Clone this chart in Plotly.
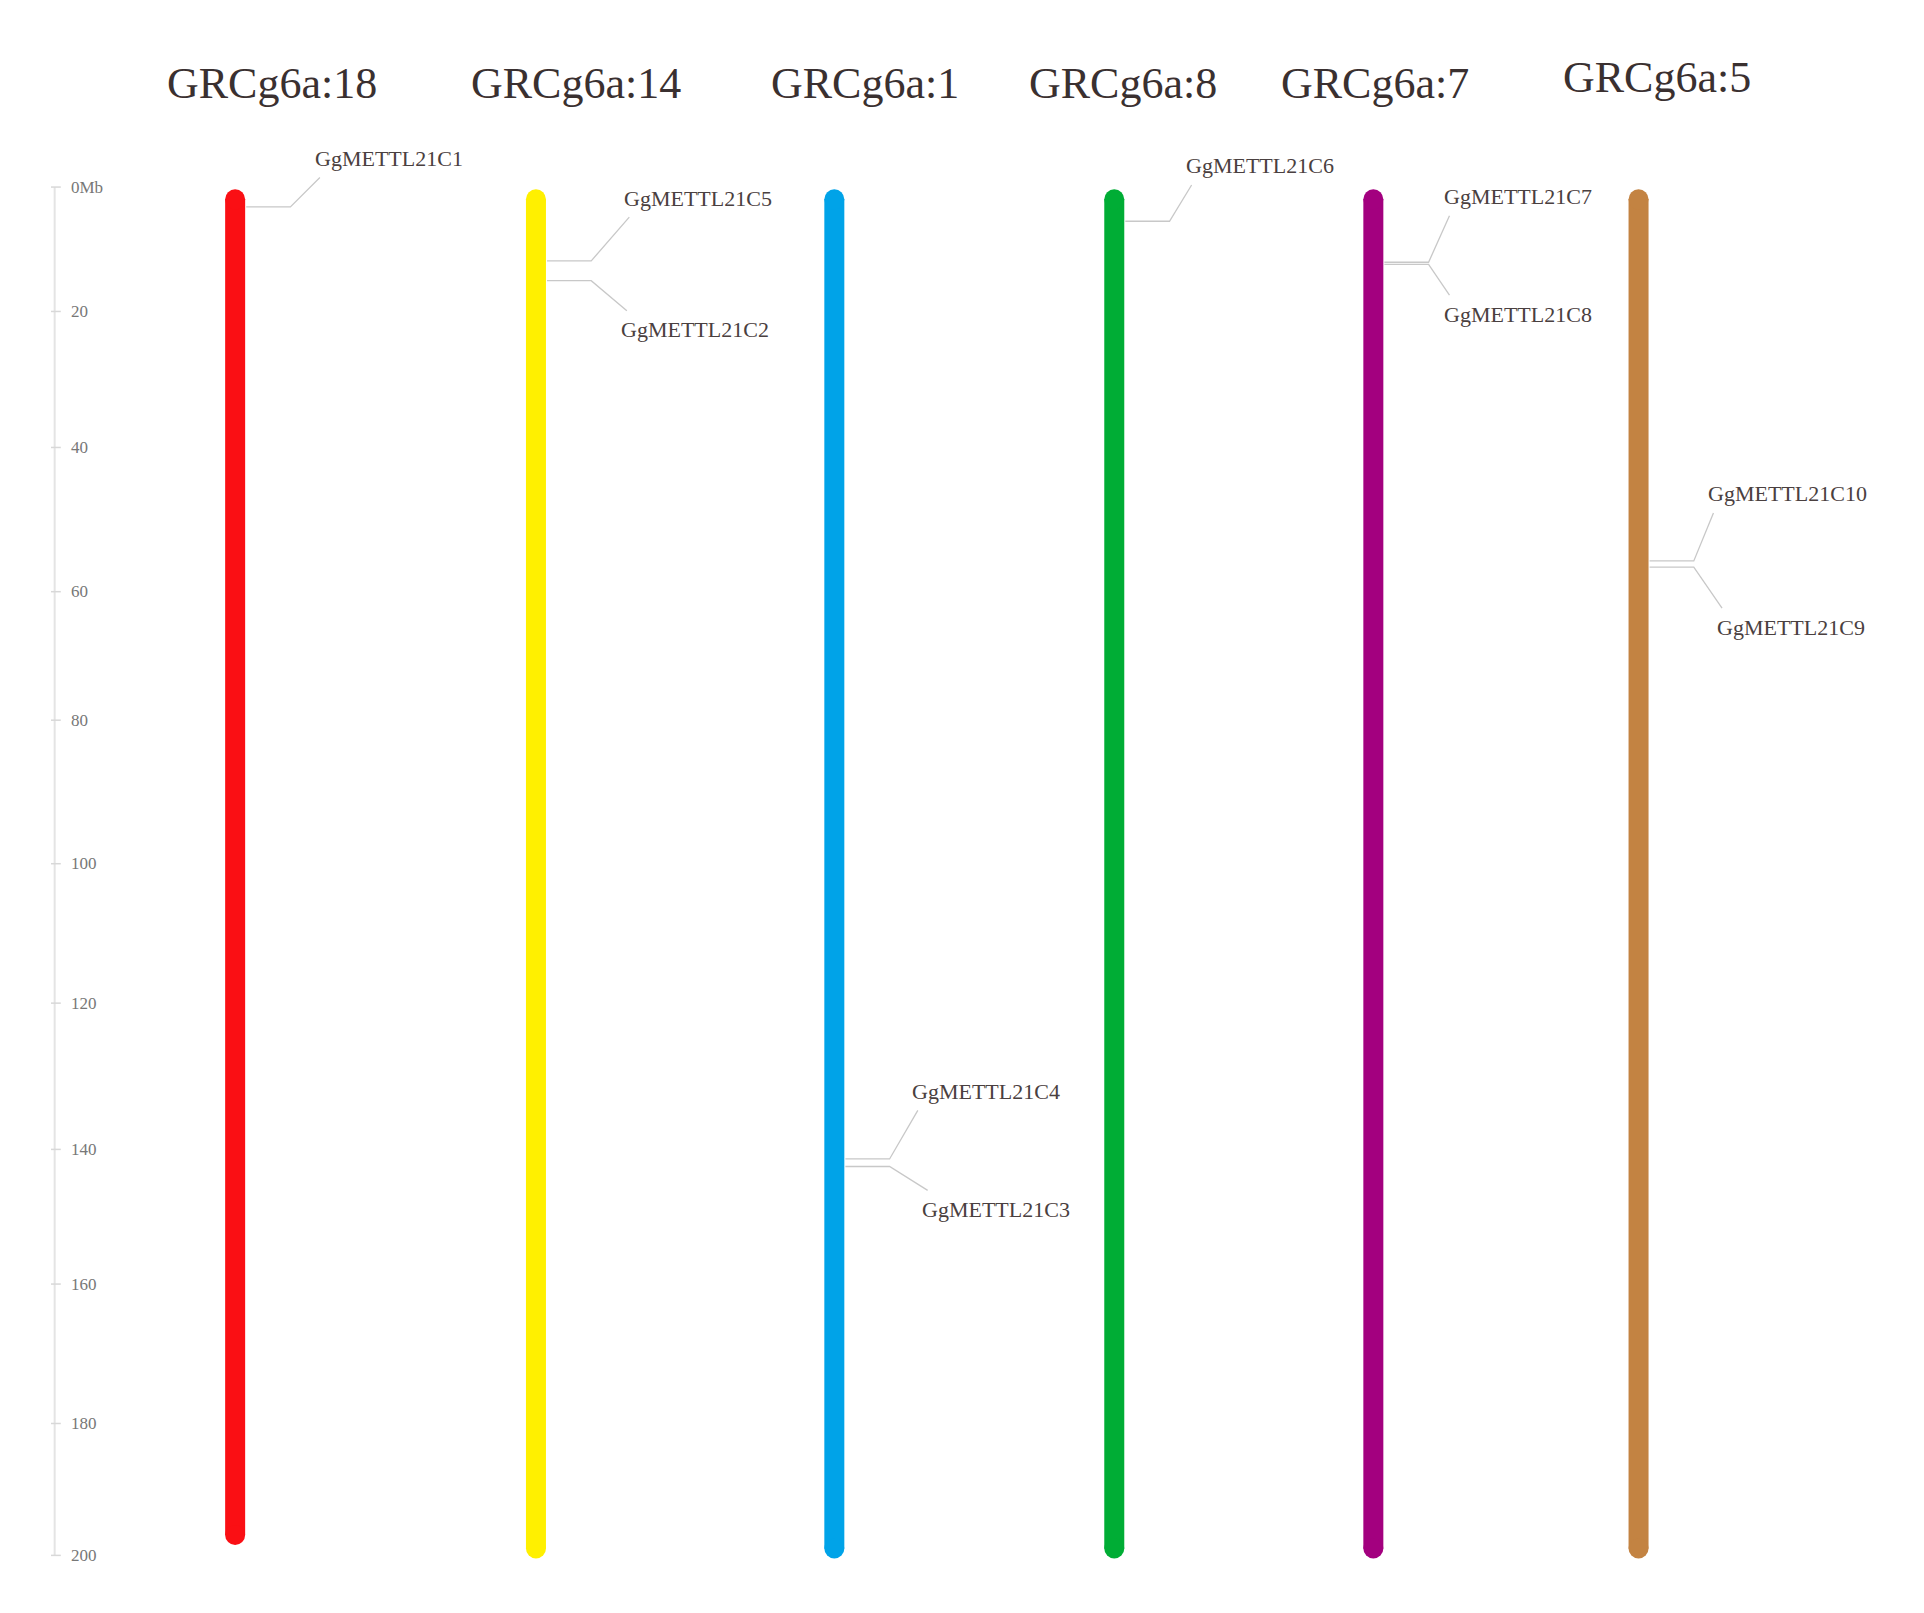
import plotly.graph_objects as go

# chromosomes (left to right)
chromosomes = ["GRCg6a:18", "GRCg6a:14", "GRCg6a:1", "GRCg6a:8", "GRCg6a:7", "GRCg6a:5"]
chr_colors = ["#fa0f14", "#fff000", "#00a3e8", "#00ad35", "#a3007f", "#c38342"]
chr_length = [199, 201, 201, 201, 201, 201]  # Mb, as drawn

# genes
genes = ["GgMETTL21C1", "GgMETTL21C5", "GgMETTL21C2", "GgMETTL21C6", "GgMETTL21C7",
         "GgMETTL21C8", "GgMETTL21C10", "GgMETTL21C9", "GgMETTL21C4", "GgMETTL21C3"]
gene_chr = [0, 1, 1, 3, 4, 4, 5, 5, 2, 2]
gene_pos = [2.9, 10.8, 13.7, 5.0, 11.0, 11.3, 54.7, 55.6, 142.2, 143.3]
label_y = [-4.2, 1.6, 20.9, -3.1, 1.4, 18.6, 44.9, 64.4, 132.3, 149.6]

scale_ticks = [0, 20, 40, 60, 80, 100, 120, 140, 160, 180, 200]
scale_tick_y = [0, 18.2, 38.1, 59.2, 78.0, 99.0, 119.4, 140.8, 160.5, 180.9, 200.2]

# layout helpers (display units)
chr_x = [192, 437, 680, 908, 1119, 1335]
title_x = [222, 470, 705, 915, 1120, 1350]
title_y = [-15.2, -15.2, -15.2, -15.2, -15.2, -16.1]
label_x = [255, 507, 505, 965, 1175, 1175, 1390, 1397, 742, 750]

fig = go.Figure()

# scale bar
fig.add_trace(go.Scatter(x=[45, 45], y=[0, 200.2], mode="lines",
                         line=dict(color="#e4e4e4", width=2), hoverinfo="skip"))
for t, ty in zip(scale_ticks, scale_tick_y):
    fig.add_trace(go.Scatter(x=[42, 50], y=[ty, ty], mode="lines",
                             line=dict(color="#d8d8d8", width=1.5), hoverinfo="skip"))
    fig.add_annotation(x=57, y=ty, text=("0Mb" if t == 0 else str(t)), showarrow=False,
                       xanchor="left", yanchor="middle",
                       font=dict(family="Liberation Serif", size=17, color="#777"))

# chromosomes
for i, name in enumerate(chromosomes):
    fig.add_trace(go.Scatter(x=[chr_x[i], chr_x[i]], y=[1.8, chr_length[i] - 1.8],
                             mode="lines+markers",
                             line=dict(color=chr_colors[i], width=20),
                             marker=dict(color=chr_colors[i], size=20, line=dict(width=0)),
                             hoverinfo="skip"))
    fig.add_annotation(x=title_x[i], y=title_y[i], text=name, showarrow=False,
                       font=dict(family="Liberation Serif", size=44, color="#3a3030"))

# genes + leader lines
for g, name in enumerate(genes):
    cx = chr_x[gene_chr[g]]
    p = gene_pos[g]
    ly = label_y[g]
    ex = cx + 45
    end_y = ly + (2.8 if ly < p else -2.8)
    fig.add_trace(go.Scatter(x=[cx + 9, ex, label_x[g] + 6], y=[p, p, end_y], mode="lines",
                             line=dict(color="#c8c8c8", width=1.3), hoverinfo="skip"))
    fig.add_annotation(x=label_x[g], y=ly, text=name, showarrow=False,
                       xanchor="left", yanchor="middle",
                       font=dict(family="Liberation Serif", size=22, color="#4a4040"))

fig.update_layout(width=1924, height=1613, margin=dict(l=0, r=0, t=0, b=0),
                  plot_bgcolor="white", paper_bgcolor="white", showlegend=False,
                  xaxis=dict(range=[7, 1574], visible=False),
                  yaxis=dict(range=[209.8, -26.2], visible=False))

fig.write_html("out.html")
